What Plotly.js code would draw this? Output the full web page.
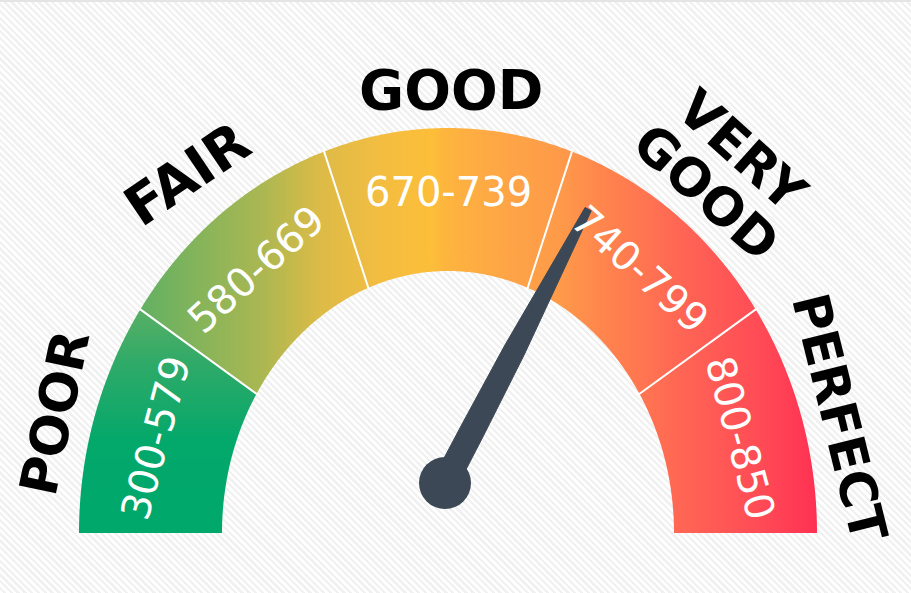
<!DOCTYPE html>
<html>
<head>
<meta charset="utf-8">
<script src="https://cdn.plot.ly/plotly-3.0.1.min.js"></script>
<style>
  html, body { margin:0; padding:0; }
  body {
    width:911px; height:593px; overflow:hidden;
    background: repeating-linear-gradient(45deg, #ffffff 0px, #ffffff 2.4px, #f1f1f1 2.4px, #f1f1f1 4.8px);
  }
  #chart { width:911px; height:593px; }
</style>
</head>
<body>
<div id="chart"></div>
<script>
// ---------------- data ----------------
const categories  = ['POOR', 'FAIR', 'GOOD', 'VERY GOOD', 'PERFECT'];
const rangeLabels = ['300-579', '580-669', '670-739', '740-799', '800-850'];
const rangeLower  = [300, 580, 670, 740, 800];
const rangeUpper  = [579, 669, 739, 799, 850];
const score = 756;

// ---------------- geometry / style ----------------
const W = 911, H = 533 + 60;           // plot spans the window
const CXpx = 448, CYpx = 533;          // gauge centre in pixels
const OUT = {rx: 369, ry: 405};
const INN = {rx: 226, ry: 262};
const nSeg = categories.length;
const segSpan = 180 / nSeg;
const deg = Math.PI / 180;

function ellR(e, thDeg) {
  const c = Math.cos(thDeg * deg), s = Math.sin(thDeg * deg);
  return 1 / Math.sqrt(c * c / (e.rx * e.rx) + s * s / (e.ry * e.ry));
}
function pt(e, thDeg, extra) {
  const r = ellR(e, thDeg) + (extra || 0);
  return [r * Math.cos(thDeg * deg), r * Math.sin(thDeg * deg)];
}

// map a score to a gauge angle (segments are equal visual width)
function scoreAngle(v) {
  for (let i = 0; i < nSeg; i++) {
    const lo = rangeLower[i], hi = (i < nSeg - 1) ? rangeLower[i + 1] : rangeUpper[i];
    if (v >= lo && v <= hi) {
      const f = (v - lo) / (hi - lo);
      return 180 - (i + f) * segSpan;
    }
  }
  return 0;
}

const traces = [];

// segment colour gradients
const seg1Grad = {type: 'vertical', start: 0, stop: 228,
  colorscale: [[0, '#00a86b'], [0.4, '#03a86b'], [0.75, '#30aa68'], [1, '#5cb064']]};
const pxStops = [[136, '#5fb063'], [200, '#86b45a'], [260, '#a9b752'], [320, '#dcbb47'],
  [380, '#f3bd41'], [432, '#fdbe39'], [445, '#fdb53e'], [500, '#fea646'], [560, '#fe9a49'],
  [600, '#ff864d'], [680, '#ff6654'], [760, '#ff4b56'], [818, '#ff3053']];
const gx0 = pxStops[0][0], gx1 = pxStops[pxStops.length - 1][0];
const globalGrad = {type: 'horizontal', start: gx0 - CXpx, stop: gx1 - CXpx,
  colorscale: pxStops.map(s => [(s[0] - gx0) / (gx1 - gx0), s[1]])};

for (let i = 0; i < nSeg; i++) {
  const a0 = 180 - i * segSpan, a1 = 180 - (i + 1) * segSpan;
  const xs = [], ys = [];
  const steps = 80;
  for (let k = 0; k <= steps; k++) {
    const a = a0 + (a1 - a0) * k / steps;
    const p = pt(OUT, a); xs.push(p[0]); ys.push(p[1]);
  }
  for (let k = steps; k >= 0; k--) {
    const a = a0 + (a1 - a0) * k / steps;
    const p = pt(INN, a); xs.push(p[0]); ys.push(p[1]);
  }
  xs.push(xs[0]); ys.push(ys[0]);
  traces.push({
    type: 'scatter', mode: 'none', x: xs, y: ys, fill: 'toself',
    fillgradient: i === 0 ? seg1Grad : globalGrad,
    hoverinfo: 'skip', showlegend: false
  });
}

// white dividers
for (let i = 1; i < nSeg; i++) {
  const a = 180 - i * segSpan;
  const p0 = pt(INN, a, -2), p1 = pt(OUT, a, 3);
  traces.push({type: 'scatter', mode: 'lines', x: [p0[0], p1[0]], y: [p0[1], p1[1]],
    line: {color: '#ffffff', width: 2}, hoverinfo: 'skip', showlegend: false});
}

// needle
const hub = {x: -3, y: 50, r: 26};
const nAng = scoreAngle(score);
const needleLen = 309;
const profile = [[0, 12.5], [60, 12.2], [150, 10.8], [230, 7.4], [285, 4.6], [needleLen, 3.5]];
const ux = Math.cos(nAng * deg), uy = Math.sin(nAng * deg);
const vx = -uy, vy = ux;
const nx = [], ny = [];
profile.forEach(([d, hw]) => { nx.push(hub.x + ux * d + vx * hw); ny.push(hub.y + uy * d + vy * hw); });
profile.slice().reverse().forEach(([d, hw]) => { nx.push(hub.x + ux * d - vx * hw); ny.push(hub.y + uy * d - vy * hw); });
nx.push(nx[0]); ny.push(ny[0]);
const needleColor = '#3c4855';
traces.push({type: 'scatter', mode: 'lines', x: nx, y: ny, fill: 'toself',
  fillcolor: needleColor, line: {color: needleColor, width: 1}, hoverinfo: 'skip', showlegend: false});

// annotations
const annotations = [];
// range labels inside the band
for (let i = 0; i < nSeg; i++) {
  const a = 180 - (i + 0.5) * segSpan;
  const ri = ellR(INN, a), ro = ellR(OUT, a);
  const r = ri + 0.55 * (ro - ri);
  const mid = {rx: INN.rx + 0.55 * (OUT.rx - INN.rx), ry: INN.ry + 0.55 * (OUT.ry - INN.ry)};
  const pA = pt(mid, a + 0.5), pB = pt(mid, a - 0.5);
  const tang = -Math.atan2(pB[1] - pA[1], pB[0] - pA[0]) / deg;
  annotations.push({x: r * Math.cos(a * deg), y: r * Math.sin(a * deg), xref: 'x', yref: 'y',
    text: rangeLabels[i], showarrow: false, textangle: Math.round(tang),
    font: {family: 'DejaVu Sans', size: 40, color: '#ffffff'}, xanchor: 'center', yanchor: 'middle'});
}
// category labels outside
const catPos = [[162.9, 39.5, -78], [126, 52, -34], [89.6, 38, 0], [52.6, 64, 42], [16.4, 36, 76]];
const catSize = [52, 55, 55, 52, 51];
for (let i = 0; i < nSeg; i++) {
  const [a, off, ta] = catPos[i];
  const r = ellR(OUT, a) + off;
  const cx = r * Math.cos(a * deg), cy = r * Math.sin(a * deg);
  const words = categories[i].split(' ');
  const font = {family: 'DejaVu Sans', size: catSize[i], color: '#000000', weight: 'bold'};
  if (words.length === 1) {
    annotations.push({x: cx, y: cy, xref: 'x', yref: 'y', text: words[0], showarrow: false,
      textangle: ta, font: font, xanchor: 'center', yanchor: 'middle', borderpad: 0});
  } else {
    const gap = 55;
    const px = Math.sin(ta * deg), py = Math.cos(ta * deg);
    words.forEach((w, k) => {
      const s = (k === 0 ? 0.5 : -0.5) * gap;
      annotations.push({x: cx + px * s, y: cy + py * s, xref: 'x', yref: 'y', text: w,
        showarrow: false, textangle: ta, font: font, xanchor: 'center', yanchor: 'middle', borderpad: 0});
    });
  }
}

const layout = {
  width: W, height: H,
  margin: {l: 0, r: 0, t: 0, b: 0, pad: 0},
  paper_bgcolor: 'rgba(0,0,0,0)', plot_bgcolor: 'rgba(0,0,0,0)',
  xaxis: {range: [-CXpx, W - CXpx], visible: false, fixedrange: true},
  yaxis: {range: [CYpx - H, CYpx], visible: false, fixedrange: true},
  showlegend: false,
  annotations: annotations,
  shapes: [
    {type: 'circle', xref: 'x', yref: 'y', x0: hub.x - hub.r, x1: hub.x + hub.r,
     y0: hub.y - hub.r, y1: hub.y + hub.r, fillcolor: needleColor, line: {width: 0}},
    {type: 'rect', xref: 'paper', yref: 'paper', x0: 0, x1: 1, y0: 1 - 2 / H, y1: 1,
     fillcolor: '#e4e4e4', line: {width: 0}}
  ]
};

Plotly.newPlot('chart', traces, layout, {staticPlot: true, displayModeBar: false});
</script>
</body>
</html>
